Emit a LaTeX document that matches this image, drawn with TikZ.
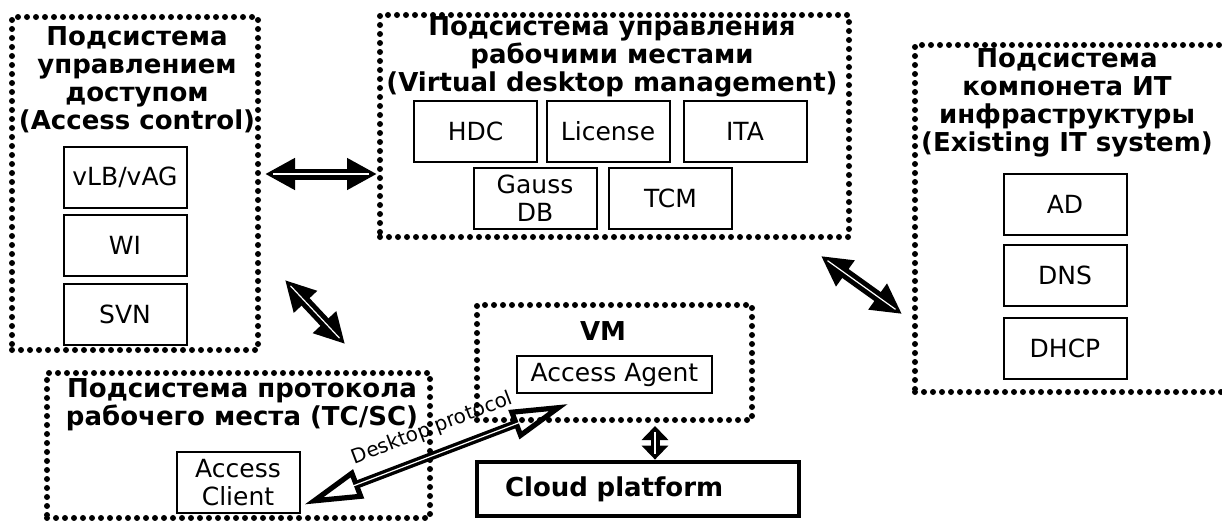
\documentclass[tikz,border=0pt]{standalone}
\usepackage{fontspec}
\setmainfont{DejaVu Sans}
\usetikzlibrary{arrows.meta}
\newcommand{\nf}{\fontsize{12.5}{14}\selectfont}
\newcommand{\tf}{\fontsize{13}{14}\selectfont\bfseries}
\newcommand{\lf}{\fontsize{10}{12}\selectfont}

\begin{document}
\begin{tikzpicture}[x=0.5pt,y=-0.5pt,
    group/.style={draw, line width=3pt, line cap=round, dash pattern=on 0pt off 4.5pt, inner sep=0pt},
    comp/.style={draw, line width=1pt, minimum width=61.5pt, minimum height=30.5pt, inner sep=0pt, align=center, font=\nf},
    title/.style={align=center, font=\tf, inner sep=0pt},
    fat/.style={line width=5.5pt, {Triangle[length=15pt,width=15pt]}-{Triangle[length=15pt,width=15pt]},
        postaction={draw, white, line width=0.6pt, arrows=-, shorten <=4pt, shorten >=4pt}},
    thin/.style={line width=4pt, {Triangle[open,length=29pt,width=15pt,line width=2.6pt]}-{Triangle[open,length=29pt,width=15pt,line width=2.6pt]},
        postaction={draw, white, line width=0.6pt, arrows=-, shorten <=26pt, shorten >=26pt}}]
    \useasboundingbox (0,0) rectangle (1222,520);
    \clip (0,0) rectangle (1222,520);

    % subsystems
    \node[group, minimum width=123pt, minimum height=166.5pt] (acc) at (135,183.5) {};
    \node[group, minimum width=234.5pt, minimum height=111pt] (vdm) at (614.5,126) {};
    \node[group, minimum width=162.5pt, minimum height=173.5pt] (its) at (1077.5,218.5) {};
    \node[group, minimum width=191.5pt, minimum height=72.5pt] (proto) at (238.5,445.5) {};
    \node[group, minimum width=137.5pt, minimum height=57.5pt] (vm) at (614.5,362.5) {};

    \node[title] (acct) at (137,80) {Подсистема\\управлением\\доступом\\(Access control)};
    \node[title] (vdmt) at (612,57) {Подсистема управления\\рабочими местами\\(Virtual desktop management)};
    \node[title] (itst) at (1067,103) {Подсистема\\компонета ИТ\\инфраструктуры\\(Existing IT system)};
    \node[title] (prott) at (242,405) {Подсистема протокола\\рабочего места (TC/SC)};
    \node[title] (vmt) at (603,331) {VM};

    % components
    \node[comp] (vlb) at (125,177) {vLB/vAG};
    \node[comp] (wi) at (125,245.5) {WI};
    \node[comp] (svn) at (125,314.5) {SVN};

    \node[comp] (hdc) at (475.5,131) {HDC};
    \node[comp] (lic) at (608,131) {License};
    \node[comp] (ita) at (745,131) {ITA};
    \node[comp] (gauss) at (535,198) {Gauss\\DB};
    \node[comp] (tcm) at (670.5,198) {TCM};

    \node[comp] (ad) at (1065,204.5) {AD};
    \node[comp] (dns) at (1065,275.5) {DNS};
    \node[comp] (dhcp) at (1065,348) {DHCP};

    \node[comp] (client) at (238,482.5) {Access\\Client};
    \node[comp, minimum width=97.5pt, minimum height=18.5pt] (agent) at (614.5,374.5) {Access Agent};

    \node[draw, line width=2.4pt, minimum width=161pt, minimum height=27pt, text width=133pt,
        inner xsep=14pt, inner ysep=0pt, align=left, font=\tf] (cloud) at (638,489) {Cloud platform};

    % links
    \draw[fat] ([shift={(4,-9.5)}]acc.east) -- ([shift={(0,48)}]vdm.west);
    \draw[fat] ([shift={(24,96.5)}]acc.east) -- ([shift={(106.5,-26)}]proto.north);
    \draw[fat] ([shift={(-31,16)}]vdm.south east) -- ([shift={(-10,95.5)}]its.west);
    \draw[line width=4.5pt, {Triangle[length=7pt,width=13pt]}-{Triangle[length=7pt,width=13pt]},
        postaction={draw, white, line width=0.6pt, arrows=-, shorten <=3pt, shorten >=3pt}]
        ([shift={(40.5,3)}]vm.south) -- ([shift={(17,0)}]cloud.north);
    \draw[thin] ([shift={(4,22)}]client.east) -- node[pos=0.52, sloped, above=2.5pt, font=\lf] (dp) {Desktop protocol} ([shift={(-46.5,10)}]agent.south);
\end{tikzpicture}
\end{document}
